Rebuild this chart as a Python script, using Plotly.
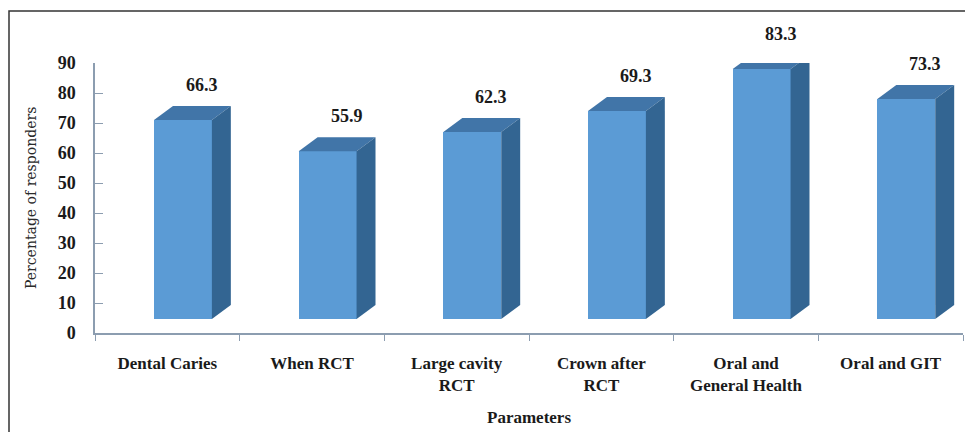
import plotly.graph_objects as go

# Survey parameters and share of responders (%)
categories = ["Dental Caries", "When RCT", "Large cavity<br>RCT", "Crown after<br>RCT",
              "Oral and<br>General Health", "Oral and GIT"]
percent = [66.3, 55.9, 62.3, 69.3, 83.3, 73.3]
y_ticks = [0, 10, 20, 30, 40, 50, 60, 70, 80, 90]
Y_MAX = 90

# Pseudo-3D column geometry (category units on x, value units on y)
LEFT, WIDTH = -0.092, 0.40      # front face extent around each category index
DEPTH_X, DEPTH_Y = 0.131, 4.67  # receding depth of each column
RIGHT = LEFT + WIDTH

FRONT = "#5b9bd5"
TOP = "#4175a8"
SIDE = "#336592"
AXIS = "#8c9db0"
SERIF = "Liberation Serif"

xs = list(range(len(categories)))

fig = go.Figure()

# front faces
fig.add_trace(go.Bar(
    x=xs, y=percent, base=[DEPTH_Y] * len(xs),
    offset=LEFT, width=WIDTH,
    marker=dict(color=FRONT, line=dict(width=0)),
    hovertemplate="%{customdata}: %{y}%<extra></extra>",
    customdata=[c.replace("<br>", " ") for c in categories],
    showlegend=False,
))

# top and side faces of each column
for i, v in zip(xs, percent):
    xl, xr = i + LEFT, i + RIGHT
    top_front = DEPTH_Y + v
    fig.add_trace(go.Scatter(
        x=[xl, xr, xr + DEPTH_X, xl + DEPTH_X, xl],
        y=[top_front, top_front, top_front + DEPTH_Y, top_front + DEPTH_Y, top_front],
        fill="toself", fillcolor=TOP, mode="lines", line=dict(width=0, color=TOP),
        hoverinfo="skip", showlegend=False,
    ))
    fig.add_trace(go.Scatter(
        x=[xr, xr + DEPTH_X, xr + DEPTH_X, xr, xr],
        y=[DEPTH_Y, 2 * DEPTH_Y, top_front + DEPTH_Y, top_front, DEPTH_Y],
        fill="toself", fillcolor=SIDE, mode="lines", line=dict(width=0, color=SIDE),
        hoverinfo="skip", showlegend=False,
    ))
    # value label above the column (paper y so labels above the axis top stay visible)
    fig.add_annotation(
        x=i + (LEFT + RIGHT) / 2 + DEPTH_X, y=(top_front + DEPTH_Y) / Y_MAX,
        xref="x", yref="paper", text=f"{v}", showarrow=False,
        yanchor="bottom", yshift=9,
        font=dict(family=SERIF, size=18, color="#1a1a1a", weight="bold"),
    )

ML, MR, MT, MB = 95, 2, 63, 99
W, H = 965, 432
PW, PH = W - ML - MR, H - MT - MB

# axis titles
fig.add_annotation(
    x=0, y=0.5, xref="paper", yref="paper", xshift=-64,
    text="Percentage of responders", textangle=-90, showarrow=False,
    xanchor="center", yanchor="middle",
    font=dict(family="DejaVu Serif", size=14, color="#2a2a2a"),
)
fig.add_annotation(
    x=0.5, y=(333 - 417) / PH, xref="paper", yref="paper",
    text="Parameters", showarrow=False, xanchor="center", yanchor="middle",
    font=dict(family=SERIF, size=17, color="#1a1a1a", weight="bold"),
)

# outer frame (left and top edges visible)
fig.add_shape(
    type="rect", xref="paper", yref="paper",
    x0=(9 - ML) / PW, x1=1.2, y0=-1.0, y1=(H - MB - 11) / PH,
    line=dict(color="#333333", width=1.5), layer="below",
)

fig.update_layout(
    width=W, height=H,
    margin=dict(l=ML, r=MR, t=MT, b=MB),
    paper_bgcolor="white", plot_bgcolor="white",
    bargap=0,
    xaxis=dict(
        range=[-0.5, len(categories) - 0.5],
        tickmode="array", tickvals=xs, ticktext=categories,
        ticks="", showgrid=False, zeroline=False,
        showline=True, linecolor=AXIS, linewidth=1.5,
        ticklabelstandoff=14,
        tickfont=dict(family=SERIF, size=17, color="#1a1a1a", weight="bold"),
        minor=dict(tickmode="array", tickvals=[k + 0.5 for k in range(-1, len(categories))],
                   ticks="outside", ticklen=6, tickcolor=AXIS, tickwidth=1.2, showgrid=False),
        fixedrange=True,
    ),
    yaxis=dict(
        range=[0, Y_MAX], tickmode="array", tickvals=y_ticks,
        ticks="inside", ticklen=8, tickcolor=AXIS, tickwidth=1.2,
        showgrid=False, zeroline=False,
        showline=True, linecolor=AXIS, linewidth=1.5,
        ticklabelstandoff=14,
        tickfont=dict(family=SERIF, size=18, color="#1a1a1a", weight="bold"),
        fixedrange=True,
    ),
)

fig.write_html("out.html")
